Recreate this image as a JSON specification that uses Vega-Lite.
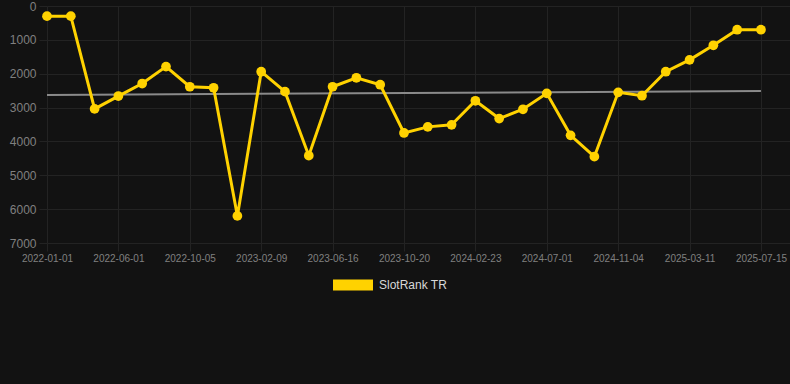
{
  "$schema": "https://vega.github.io/schema/vega-lite/v6.json",
  "width": 743,
  "height": 237,
  "autosize": {"type": "none"},
  "padding": {"left": 47, "top": 6, "right": 0, "bottom": 141},
  "background": "#121212",
  "config": {"view": {"stroke": null}, "font": "Liberation Sans"},
  "datasets": {
    "rank": [
      {"date": "2022-01-01", "rank": 300, "series": "SlotRank TR"},
      {"date": "2022-02-20", "rank": 300, "series": "SlotRank TR"},
      {"date": "2022-04-11", "rank": 3040, "series": "SlotRank TR"},
      {"date": "2022-06-01", "rank": 2660, "series": "SlotRank TR"},
      {"date": "2022-07-13", "rank": 2290, "series": "SlotRank TR"},
      {"date": "2022-08-24", "rank": 1790, "series": "SlotRank TR"},
      {"date": "2022-10-05", "rank": 2385, "series": "SlotRank TR"},
      {"date": "2022-11-16", "rank": 2415, "series": "SlotRank TR"},
      {"date": "2022-12-28", "rank": 6200, "series": "SlotRank TR"},
      {"date": "2023-02-09", "rank": 1940, "series": "SlotRank TR"},
      {"date": "2023-03-24", "rank": 2530, "series": "SlotRank TR"},
      {"date": "2023-05-05", "rank": 4420, "series": "SlotRank TR"},
      {"date": "2023-06-16", "rank": 2385, "series": "SlotRank TR"},
      {"date": "2023-07-28", "rank": 2120, "series": "SlotRank TR"},
      {"date": "2023-09-08", "rank": 2325, "series": "SlotRank TR"},
      {"date": "2023-10-20", "rank": 3750, "series": "SlotRank TR"},
      {"date": "2023-12-01", "rank": 3570, "series": "SlotRank TR"},
      {"date": "2024-01-12", "rank": 3510, "series": "SlotRank TR"},
      {"date": "2024-02-23", "rank": 2800, "series": "SlotRank TR"},
      {"date": "2024-04-06", "rank": 3325, "series": "SlotRank TR"},
      {"date": "2024-05-19", "rank": 3050, "series": "SlotRank TR"},
      {"date": "2024-07-01", "rank": 2580, "series": "SlotRank TR"},
      {"date": "2024-08-12", "rank": 3820, "series": "SlotRank TR"},
      {"date": "2024-09-23", "rank": 4450, "series": "SlotRank TR"},
      {"date": "2024-11-04", "rank": 2550, "series": "SlotRank TR"},
      {"date": "2024-12-16", "rank": 2650, "series": "SlotRank TR"},
      {"date": "2025-01-27", "rank": 1940, "series": "SlotRank TR"},
      {"date": "2025-03-11", "rank": 1590, "series": "SlotRank TR"},
      {"date": "2025-04-22", "rank": 1160, "series": "SlotRank TR"},
      {"date": "2025-06-03", "rank": 700, "series": "SlotRank TR"},
      {"date": "2025-07-15", "rank": 700, "series": "SlotRank TR"}
    ],
    "trend": [
      {"date": "2022-01-01", "rank": 2630},
      {"date": "2025-07-15", "rank": 2510}
    ]
  },
  "encoding": {
    "x": {
      "field": "date", "type": "ordinal",
      "scale": {"type": "point", "padding": 0.61, "align": 0},
      "axis": {
        "values": ["2022-01-01", "2022-06-01", "2022-10-05", "2023-02-09", "2023-06-16", "2023-10-20", "2024-02-23", "2024-07-01", "2024-11-04", "2025-03-11", "2025-07-15"],
        "title": null, "labelAngle": 0, "grid": true, "gridColor": "#232323",
        "domain": false, "ticks": true, "tickSize": 8, "tickColor": "#232323",
        "labelFontSize": 10, "labelColor": "#808080", "labelPadding": 2, "labelOverlap": false
      }
    },
    "y": {
      "field": "rank", "type": "quantitative",
      "scale": {"domain": [0, 7000], "reverse": true, "nice": false, "zero": true},
      "axis": {
        "values": [0, 1000, 2000, 3000, 4000, 5000, 6000, 7000],
        "title": null, "grid": true, "gridColor": "#232323", "domain": false,
        "ticks": true, "tickSize": 8, "tickColor": "#232323",
        "labelFontSize": 12, "labelColor": "#808080", "labelPadding": 3, "format": "d",
        "labelOverlap": false, "labelBound": false, "labelFlush": false
      }
    }
  },
  "layer": [
    {
      "data": {"name": "trend"},
      "mark": {"type": "line", "color": "#8a8a8a", "strokeWidth": 2}
    },
    {
      "data": {"name": "rank"},
      "mark": {"type": "line", "strokeWidth": 3, "point": {"filled": true, "size": 95, "opacity": 1}},
      "encoding": {
        "color": {
          "field": "series", "type": "nominal",
          "scale": {"domain": ["SlotRank TR"], "range": ["#ffd200"]},
          "legend": {
            "title": null, "orient": "none", "legendX": 286, "legendY": 259,
            "direction": "horizontal", "padding": 0,
            "symbolType": "M-1,-0.275L1,-0.275L1,0.275L-1,0.275Z",
            "symbolSize": 1600, "symbolFillColor": "#ffd200", "symbolStrokeColor": "#ffd200",
            "symbolStrokeWidth": 0, "symbolOpacity": 1,
            "labelFontSize": 12, "labelColor": "#d8d8d8", "labelOffset": 6
          }
        }
      }
    }
  ]
}
